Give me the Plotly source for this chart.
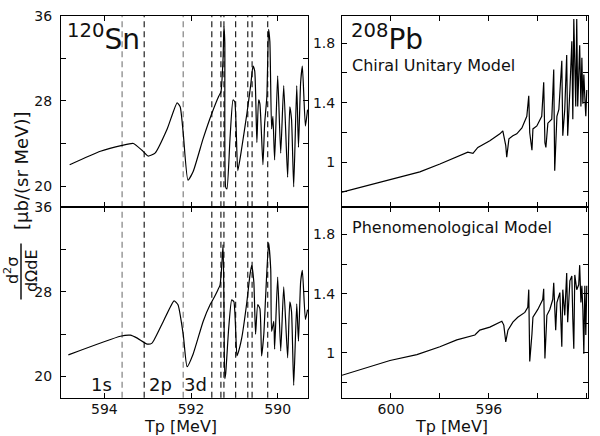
import plotly.graph_objects as go

W, H = 600, 436
FONT = "DejaVu Sans"

# ---- data: 120Sn, chiral unitary model (top-left) ----
sn_chiral_tp = [594.80, 594.09, 593.59, 593.33, 593.13, 592.99, 592.83, 592.55, 592.32, 592.25,
                592.18, 592.07, 591.95, 591.72, 591.52, 591.36, 591.31, 591.26, 591.24, 591.22,
                591.20, 591.17, 591.10, 591.03, 590.99, 590.92, 590.83, 590.71, 590.62, 590.57,
                590.53, 590.48, 590.44, 590.41, 590.34, 590.30, 590.25, 590.21, 590.18, 590.14,
                590.11, 590.07, 590.00, 589.93, 589.86, 589.77, 589.72, 589.68, 589.63, 589.56,
                589.52, 589.47, 589.43, 589.36, 589.31]
sn_chiral_xs = [22.0, 23.27, 23.82, 24.0, 23.36, 22.82, 23.09, 25.36, 27.82, 27.45,
                25.0, 20.55, 21.36, 24.45, 26.82, 28.45, 28.82, 32.0, 35.0, 33.55,
                19.9, 19.73, 24.45, 28.09, 27.91, 21.45, 23.55, 26.82, 29.55, 31.27,
                30.82, 24.09, 28.09, 27.73, 22.0, 25.91, 28.36, 34.73, 33.55, 25.36,
                26.55, 22.45, 30.36, 23.09, 29.45, 20.82, 27.45, 26.27, 19.91, 29.45,
                23.64, 29.73, 31.27, 25.64, 27.18]

# ---- data: 120Sn, phenomenological model (bottom-left) ----
sn_pheno_tp = [594.83, 593.63, 593.40, 593.24, 593.01, 592.90, 592.64, 592.39, 592.30, 592.18,
               592.09, 591.95, 591.72, 591.56, 591.52, 591.38, 591.33, 591.29, 591.26, 591.24,
               591.22, 591.20, 591.13, 591.06, 591.01, 590.94, 590.92, 590.83, 590.71, 590.64,
               590.60, 590.55, 590.51, 590.46, 590.41, 590.37, 590.32, 590.28, 590.21, 590.16,
               590.14, 590.09, 590.07, 590.00, 589.93, 589.86, 589.77, 589.72, 589.68, 589.63,
               589.56, 589.52, 589.47, 589.43, 589.36, 589.31]
sn_pheno_xs = [22.05, 23.81, 23.91, 23.63, 23.07, 23.16, 25.21, 27.16, 26.79, 24.0,
               20.93, 22.14, 25.21, 26.79, 27.07, 28.19, 28.65, 30.51, 32.47, 27.07,
               19.81, 20.28, 24.56, 27.26, 27.07, 21.95, 22.14, 23.63, 27.07, 29.58,
               30.51, 28.93, 24.0, 26.79, 26.42, 21.95, 24.0, 27.35, 32.65, 30.14,
               24.28, 25.21, 22.60, 29.40, 22.42, 28.47, 21.77, 27.07, 26.14, 19.16,
               26.88, 23.35, 28.93, 30.05, 25.40, 26.33]

# ---- data: 208Pb, chiral unitary model (top-right) ----
pb_chiral_tp = [602.0, 600.04, 598.82, 598.0, 597.31, 596.86, 596.65, 596.45, 595.96, 595.55,
                595.43, 595.31, 595.27, 595.18, 595.02, 594.86, 594.65, 594.45, 594.37, 594.33,
                594.24, 594.20, 594.04, 593.84, 593.76, 593.71, 593.67, 593.59, 593.43, 593.35,
                593.31, 593.22, 593.14, 593.02, 592.98, 592.90, 592.82, 592.78, 592.69, 592.61,
                592.57, 592.53, 592.45, 592.41, 592.37, 592.33, 592.29, 592.24, 592.20, 592.16,
                592.12, 592.08, 592.04, 592.0]
pb_chiral_xs = [0.797, 0.882, 0.934, 0.987, 1.033, 1.066, 1.059, 1.098, 1.144, 1.190,
                1.210, 1.111, 1.033, 1.157, 1.177, 1.190, 1.230, 1.308, 1.446, 1.197,
                1.079, 1.223, 1.243, 1.308, 1.538, 1.131, 1.098, 1.262, 1.289, 1.623,
                0.941, 1.308, 1.354, 1.682, 1.177, 1.354, 1.721, 1.177, 1.485, 1.813,
                1.289, 1.964, 1.374, 1.964, 1.374, 1.525, 1.787, 1.374, 1.702, 1.393,
                1.590, 1.439, 1.308, 1.485]

# ---- data: 208Pb, phenomenological model (bottom-right) ----
pb_pheno_tp = [602.0, 600.04, 598.94, 598.0, 597.31, 596.78, 596.57, 596.37, 595.96, 595.47,
               595.39, 595.31, 595.22, 595.02, 594.82, 594.53, 594.41, 594.37, 594.33, 594.24,
               594.20, 594.0, 593.80, 593.76, 593.71, 593.63, 593.51, 593.39, 593.35, 593.27,
               593.22, 593.10, 593.02, 592.98, 592.90, 592.82, 592.78, 592.69, 592.61, 592.57,
               592.53, 592.49, 592.41, 592.33, 592.29, 592.24, 592.20, 592.16, 592.12, 592.08,
               592.04, 592.0]
pb_pheno_xs = [0.847, 0.947, 0.987, 1.04, 1.087, 1.107, 1.12, 1.153, 1.173, 1.213,
               1.187, 1.073, 1.153, 1.207, 1.24, 1.273, 1.307, 1.427, 0.94, 1.127,
               1.24, 1.293, 1.36, 1.433, 0.96, 1.253, 1.293, 1.36, 1.473, 1.153,
               1.34, 1.407, 1.04, 1.427, 1.253, 1.54, 1.207, 1.487, 1.52, 1.227,
               1.027, 1.527, 1.427, 1.46, 1.593, 1.34, 1.453, 1.293, 0.993, 1.453,
               1.12, 1.453]

# bound-state energies (dashed lines) in 120Sn panels
level_tp = [593.59, 593.08, 592.18, 591.52, 591.31, 591.24, 590.97, 590.69, 590.59, 590.23]
level_grey = [True, False, True, False, False, False, False, False, False, False]
level_names = ["1s", "2p", "3d"]
level_name_tp = [594.07, 592.71, 591.89]

# ticks: labelled (major) and unlabelled (minor)
sn_y_ticks = [20, 28, 36]
sn_y_minor = [24, 32]
sn_x_ticks = [594, 592, 590]
pb_y_ticks = [1.0, 1.4, 1.8]
pb_y_text = ["1", "1.4", "1.8"]
pb_y_minor = [0.8, 1.2, 1.6]
pb_x_ticks = [600, 596, 592]
pb_x_minor = [598, 594]


def px(x):
    return x / W


def py(y):
    return 1 - y / H


LX = [px(61), px(308)]
RX = [px(342), px(588)]
TY = [py(203), py(8)]
BY = [py(397), py(203)]

fig = go.Figure()
line = dict(color="black", width=1.2)
fig.add_trace(go.Scatter(x=sn_chiral_tp, y=sn_chiral_xs, mode="lines", line=dict(line, shape="spline", smoothing=0.5), xaxis="x", yaxis="y"))
fig.add_trace(go.Scatter(x=sn_pheno_tp, y=sn_pheno_xs, mode="lines", line=dict(line, shape="spline", smoothing=0.5), xaxis="x2", yaxis="y2"))
fig.add_trace(go.Scatter(x=pb_chiral_tp, y=pb_chiral_xs, mode="lines", line=line, xaxis="x3", yaxis="y3"))
fig.add_trace(go.Scatter(x=pb_pheno_tp, y=pb_pheno_xs, mode="lines", line=line, xaxis="x4", yaxis="y4"))

# dashed level lines
for xr, yr in (("x", "y"), ("x2", "y2")):
    for v, g in zip(level_tp, level_grey):
        fig.add_shape(type="line", xref=xr, yref=yr + " domain", x0=v, x1=v, y0=0, y1=1,
                      line=dict(color="#808080" if g else "#222", width=1.2, dash="6px,4px"), layer="below")

axis_common = dict(showline=True, linecolor="black", linewidth=1, ticks="inside", ticklen=5,
                   tickcolor="black", tickwidth=1, showgrid=False, zeroline=False, mirror="ticks",
                   tickfont=dict(family=FONT, size=14, color="#111"))


def minor(vals):
    return dict(tickmode="array", tickvals=vals, ticks="inside", ticklen=5, tickcolor="black", tickwidth=1, showgrid=False)


sn_x = dict(axis_common, range=[595, 589.3], tickmode="array", tickvals=sn_x_ticks,
            ticktext=[str(v) for v in sn_x_ticks], ticklabelstandoff=-2)
sn_y = dict(axis_common, range=[18, 36], tickmode="array", tickvals=sn_y_ticks,
            ticktext=[str(v) for v in sn_y_ticks], ticklabelstandoff=5, minor=minor(sn_y_minor))
pb_x = dict(axis_common, range=[602, 591.95], tickmode="array", tickvals=pb_x_ticks,
            ticktext=[str(v) for v in pb_x_ticks], ticklabelstandoff=-2, minor=minor(pb_x_minor))
pb_y = dict(axis_common, range=[0.695, 1.985], tickmode="array", tickvals=pb_y_ticks,
            ticktext=pb_y_text, ticklabelstandoff=3, minor=minor(pb_y_minor))

fig.update_layout(
    width=W, height=H, autosize=False, showlegend=False,
    margin=dict(l=0, r=0, t=0, b=0),
    paper_bgcolor="white", plot_bgcolor="white",
    xaxis=dict(sn_x, domain=LX, anchor="y", showticklabels=False),
    yaxis=dict(sn_y, domain=TY, anchor="x"),
    xaxis2=dict(sn_x, domain=LX, anchor="y2"),
    yaxis2=dict(sn_y, domain=BY, anchor="x2"),
    xaxis3=dict(pb_x, domain=RX, anchor="y3", showticklabels=False),
    yaxis3=dict(pb_y, domain=TY, anchor="x3"),
    xaxis4=dict(pb_x, domain=RX, anchor="y4"),
    yaxis4=dict(pb_y, domain=BY, anchor="x4"),
)

ann = []
tfont = dict(family=FONT, color="#111")
ann.append(dict(xref="paper", yref="paper", x=px(65), y=py(9), xanchor="left", yanchor="top",
                text="<sup>120</sup>Sn", font=dict(tfont, size=28), showarrow=False))
ann.append(dict(xref="paper", yref="paper", x=px(349), y=py(9), xanchor="left", yanchor="top",
                text="<sup>208</sup>Pb", font=dict(tfont, size=28), showarrow=False))
ann.append(dict(xref="paper", yref="paper", x=px(350), y=py(59), xanchor="left", yanchor="middle",
                text="Chiral Unitary Model", font=dict(tfont, size=16), showarrow=False))
ann.append(dict(xref="paper", yref="paper", x=px(350), y=py(224), xanchor="left", yanchor="middle",
                text="Phenomenological Model", font=dict(tfont, size=16), showarrow=False))
for name, v in zip(level_names, level_name_tp):
    ann.append(dict(xref="x2", yref="paper", x=v, y=py(396), xanchor="center", yanchor="bottom",
                    text=name, font=dict(tfont, size=18), showarrow=False))
ann.append(dict(xref="paper", yref="paper", x=px(180), y=py(426), xanchor="center", yanchor="middle",
                text="Tp [MeV]", font=dict(tfont, size=16), showarrow=False))
ann.append(dict(xref="paper", yref="paper", x=px(451), y=py(426), xanchor="center", yanchor="middle",
                text="Tp [MeV]", font=dict(tfont, size=16), showarrow=False))
# y-axis title: fraction + units
ann.append(dict(xref="paper", yref="paper", x=px(22), y=py(166), xanchor="center", yanchor="middle",
                text="[μb/(sr MeV)]", textangle=-90, font=dict(tfont, size=18), showarrow=False))
ann.append(dict(xref="paper", yref="paper", x=px(11), y=py(268), xanchor="center", yanchor="middle",
                text="d<sup>2</sup>σ", textangle=-90, font=dict(tfont, size=16), showarrow=False))
ann.append(dict(xref="paper", yref="paper", x=px(31), y=py(268), xanchor="center", yanchor="middle",
                text="dΩdE", textangle=-90, font=dict(tfont, size=16), showarrow=False))
fig.update_layout(annotations=ann)
fig.add_shape(type="line", xref="paper", yref="paper", x0=px(21), x1=px(21), y0=py(240), y1=py(297),
              line=dict(color="#111", width=1.5))

fig.write_html("out.html", config={"displayModeBar": False})

# remove the default page margin so the figure sits at the window origin
with open("out.html", encoding="utf-8") as f:
    page = f.read()
page = page.replace("<body>", '<body style="margin:0;padding:0;overflow:hidden">', 1)
with open("out.html", "w", encoding="utf-8") as f:
    f.write(page)
